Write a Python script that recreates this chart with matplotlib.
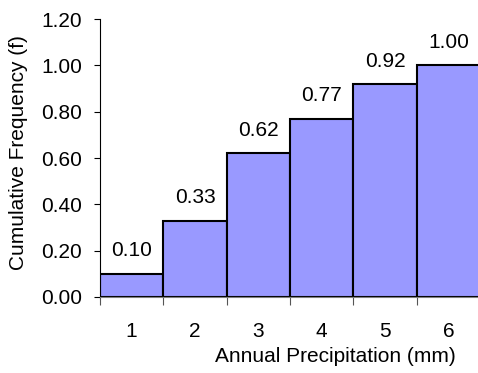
import matplotlib
matplotlib.use("Agg")
import matplotlib.pyplot as plt

categories = ["1", "2", "3", "4", "5", "6"]
values = [0.10, 0.33, 0.62, 0.77, 0.92, 1.00]
value_labels = ["0.10", "0.33", "0.62", "0.77", "0.92", "1.00"]
y_ticks = [0.0, 0.2, 0.4, 0.6, 0.8, 1.0, 1.2]
y_tick_labels = ["0.00", "0.20", "0.40", "0.60", "0.80", "1.00", "1.20"]

plt.rcParams['font.family'] = ['Liberation Sans', 'DejaVu Sans']
FS = 15

W, H = 478, 373
fig = plt.figure(figsize=(W / 100, H / 100), dpi=100)
ax = fig.add_axes([100 / W, (H - 297) / H, 380 / W, (297 - 19.2) / H])

x = list(range(1, len(categories) + 1))
ax.bar(x, values, width=1.0, color="#9999FF", edgecolor="black", linewidth=1.5, zorder=2)

for xi, v, lab in zip(x, values, value_labels):
    ax.annotate(lab, (xi, v), xytext=(0, 12.5), textcoords="offset points",
                ha="center", va="baseline", fontsize=FS, color="black")

ax.set_xlim(0.5, len(categories) + 0.5)
ax.set_ylim(0, 1.2)

ax.set_yticks(y_ticks)
ax.set_yticklabels(y_tick_labels, fontsize=FS)
ax.tick_params(axis="y", direction="out", length=4.5, width=0.8, color="black", pad=8.5)

# major ticks at boundaries (no labels), minor at centers (labels)
ax.set_xticks([i + 0.5 for i in range(0, len(categories) + 1)])
ax.set_xticklabels([])
ax.set_xticks(x, minor=True)
ax.set_xticklabels(categories, minor=True, fontsize=FS)
ax.tick_params(axis="x", which="major", direction="out", length=6, width=0.8, color="#555555")
ax.tick_params(axis="x", which="minor", length=0, pad=18)

for s in ["top", "right"]:
    ax.spines[s].set_visible(False)
ax.spines["left"].set_color("black")
ax.spines["left"].set_linewidth(0.8)
ax.spines["bottom"].set_color("#808080")
ax.spines["bottom"].set_linewidth(0.8)
ax.patch.set_alpha(0)

fig.text(335 / W, 11 / H, "Annual Precipitation (mm)", ha="center", va="baseline", fontsize=FS)
fig.text(24 / W, 1 - 152.5 / H, "Cumulative Frequency (f)", rotation=90,
         rotation_mode="anchor", ha="center", va="baseline", fontsize=FS)

fig.savefig("out.png", dpi=100)
